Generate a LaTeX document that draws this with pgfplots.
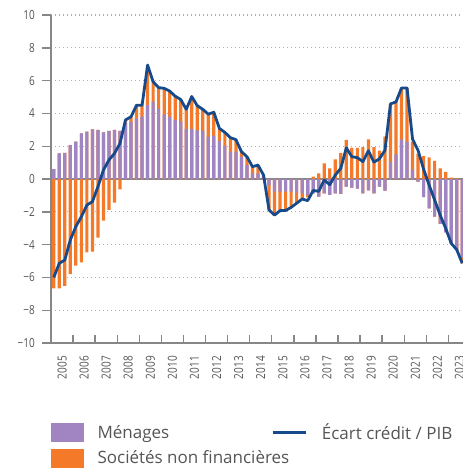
\documentclass[border=0pt]{standalone}
\usepackage{fontspec}
\setmainfont{Open Sans}
\usepackage{graphicx}
\usepackage{pgfplots}
\usepackage{pgfplotstable}
\pgfplotsset{compat=1.18}

\definecolor{menages}{RGB}{160,133,194}
\definecolor{snf}{RGB}{244,121,40}
\definecolor{ecart}{RGB}{22,74,138}
\definecolor{txt}{RGB}{85,85,85}
\definecolor{axisgray}{RGB}{135,135,135}
\definecolor{gridgray}{RGB}{175,175,175}

\newcommand\tl[1]{\scalebox{0.8}[1]{#1}}

% trimestres 2005T1 - 2023T3 ; P = ménages, O = sociétés non financières, L = écart crédit/PIB
\pgfplotstableread{
i P O L
0 0.60 -6.67 -6.00
1 1.56 -6.67 -5.14
2 1.60 -6.52 -4.94
3 2.07 -5.79 -3.72
4 2.28 -5.28 -2.90
5 2.78 -5.08 -2.30
6 2.89 -4.47 -1.59
7 3.03 -4.43 -1.38
8 2.99 -3.58 -0.47
9 2.85 -2.54 0.55
10 2.93 -1.89 1.16
11 2.99 -1.44 1.56
12 2.93 -0.63 2.17
13 3.40 0.20 3.60
14 3.50 0.30 3.80
15 3.70 0.80 4.50
16 3.80 0.70 4.50
17 4.50 2.40 6.95
18 4.72 1.20 5.93
19 4.30 1.27 5.57
20 3.94 1.59 5.53
21 3.80 1.55 5.36
22 3.60 1.45 5.05
23 3.50 1.35 4.85
24 3.05 1.20 4.25
25 3.05 1.95 5.03
26 2.97 1.53 4.47
27 2.93 1.32 4.25
28 2.58 1.40 3.95
29 2.64 1.42 4.07
30 2.32 0.77 3.09
31 2.03 0.81 2.84
32 1.67 0.85 2.52
33 1.67 0.73 2.40
34 1.36 0.31 1.67
35 0.85 0.51 1.36
36 0.35 0.40 0.75
37 0.35 0.50 0.85
38 0.14 0.10 0.24
39 -0.37 -1.52 -1.89
40 -0.77 -1.43 -2.20
41 -0.77 -1.16 -1.93
42 -0.77 -1.15 -1.92
43 -0.77 -0.96 -1.73
44 -0.83 -0.65 -1.48
45 -0.87 -0.35 -1.22
46 -0.97 -0.15 -1.32
47 -0.87 0.14 -0.70
48 -1.08 0.35 -0.75
49 -0.87 0.95 -0.06
50 -0.97 0.65 -0.35
51 -0.87 1.20 0.24
52 -0.90 1.60 0.65
53 -0.47 2.38 1.90
54 -0.52 1.90 1.36
55 -0.58 1.90 1.30
56 -0.87 1.95 1.06
57 -0.69 2.42 1.72
58 -0.87 1.95 1.03
59 -0.47 1.73 1.23
60 -0.71 2.58 1.75
61 1.06 3.52 4.58
62 1.50 3.20 4.70
63 2.42 3.11 5.55
64 2.28 3.27 5.55
65 0.57 1.71 2.43
66 -0.16 1.54 1.74
67 -1.10 1.40 0.60
68 -1.79 1.32 -0.37
69 -2.30 1.10 -1.28
70 -2.73 0.65 -2.20
71 -3.25 0.43 -3.00
72 -3.92 0.09 -3.92
73 -4.33 0.04 -4.31
74 -4.80 -0.35 -5.14
}\credit

\begin{document}
\begin{tikzpicture}
\useasboundingbox (-51pt,-129pt) rectangle (412pt,343pt);
\begin{axis}[
    at={(0pt,0pt)}, anchor=south west,
    scale only axis, width=414pt, height=328pt,
    xmin=2005, xmax=2023.75, ymin=-10, ymax=10,
    axis lines*=left,
    axis line style={axisgray, line width=1.6pt},
    tick align=inside,
    major tick length=9pt, minor tick length=8pt,
    ytick={-10,-8,...,10},
    yticklabels={\tl{−10},\tl{−8},\tl{−6},\tl{−4},\tl{−2},\tl{0},\tl{2},\tl{4},\tl{6},\tl{8},\tl{10}},
    ytick style={axisgray, line width=1.4pt, xshift=-9pt},
    yticklabel style={font=\fontsize{12.5}{14}\selectfont, text=txt, anchor=east, inner sep=0pt, xshift=-16pt},
    xtick={2005.5,2006.5,...,2023.5},
    xticklabels={\tl{2005},\tl{2006},\tl{2007},\tl{2008},\tl{2009},\tl{2010},\tl{2011},\tl{2012},\tl{2013},\tl{2014},\tl{2015},\tl{2016},\tl{2017},\tl{2018},\tl{2019},\tl{2020},\tl{2021},\tl{2022},\tl{2023}},
    major x tick style={draw=none},
    minor xtick={2006,2007,...,2023},
    minor x tick style={axisgray, line width=1.4pt},
    xticklabel style={font=\fontsize{12.5}{14}\selectfont, text=txt, yshift=-13pt, rotate=90, anchor=east, inner sep=0pt},
    ymajorgrids,
    major grid style={gridgray, line width=1.2pt, dash pattern=on 1.2pt off 2.8pt},
    extra y ticks={0}, extra y tick labels={},
    extra y tick style={grid=major, major grid style={axisgray, line width=1.6pt, solid}},
    legend columns=2,
    legend cell align=left,
    legend style={at={(axis description cs:0,-0.239)}, anchor=north west, draw=none, fill=none,
        inner sep=0pt, font=\fontsize{17}{20}\selectfont, text=txt,
        /tikz/every even column/.append style={column sep=100pt}, row sep=6pt},
]
\addplot[ybar, bar width=0.145, bar shift=0pt, fill=snf, draw=none, forget plot]
    table[x expr=2005+(\thisrow{i}+0.5)/4, y expr={max(\thisrow{P},0)+max(\thisrow{O},0)}] {\credit};
\addplot[ybar, bar width=0.145, bar shift=0pt, fill=snf, draw=none, forget plot]
    table[x expr=2005+(\thisrow{i}+0.5)/4, y expr={min(\thisrow{P},0)+min(\thisrow{O},0)}] {\credit};
\addplot[ybar, bar width=0.145, bar shift=0pt, fill=menages, draw=none, forget plot]
    table[x expr=2005+(\thisrow{i}+0.5)/4, y=P] {\credit};
\addplot[ecart, line width=2.8pt, line join=round, mark=none, forget plot]
    table[x expr=2005+(\thisrow{i}+0.5)/4, y=L] {\credit};

\addlegendimage{legend image code/.code={\fill[menages] (0pt,-9pt) rectangle (32pt,9pt); \path (44pt,0pt);}}
\addlegendentry{Ménages}
\addlegendimage{legend image code/.code={\draw[ecart, line width=2.8pt] (0pt,0pt) -- (33pt,0pt); \path (47pt,0pt);}}
\addlegendentry{Écart crédit / PIB}
\addlegendimage{legend image code/.code={\fill[snf] (0pt,-9pt) rectangle (32pt,9pt); \path (44pt,0pt);}}
\addlegendentry{\rlap{Sociétés non financières}}
\end{axis}
\end{tikzpicture}
\end{document}
